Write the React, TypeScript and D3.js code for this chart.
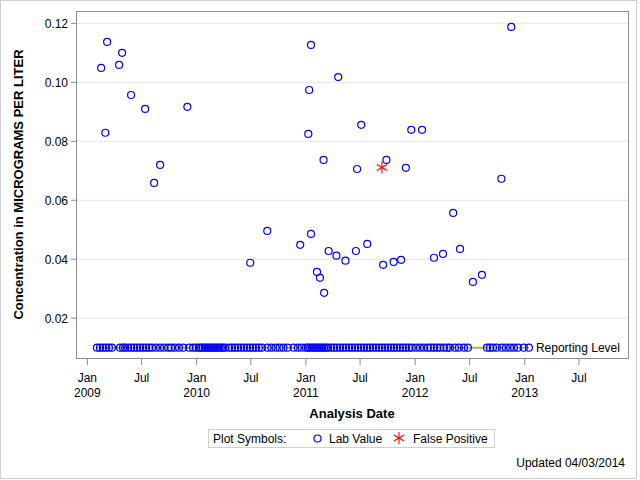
import React from "react";
import * as d3 from "d3";

// ---- data ----
const labDates: string[] = [
  "2009-02-16","2009-03-08","2009-03-02","2009-04-17","2009-04-27","2009-05-27","2009-07-13","2009-12-01",
  "2009-08-12","2009-09-01","2010-06-29","2012-11-17","2011-01-18","2011-04-19","2011-01-12","2011-07-05",
  "2011-12-19","2012-01-24","2011-01-09","2011-03-01","2011-09-27","2011-06-21","2011-12-01","2012-10-15",
  "2012-05-07","2010-08-25","2011-01-18","2010-12-13","2011-07-25","2011-03-18","2011-06-17","2011-04-13",
  "2011-05-13","2011-09-16","2011-10-21","2011-11-15","2012-03-04","2012-04-03","2012-05-30","2011-02-07",
  "2011-02-17","2011-03-03","2012-07-12","2012-08-11"
];
const labValues: number[] = [
  0.1049,0.1137,0.0829,0.1059,0.110,0.0957,0.091,0.0917,
  0.0659,0.072,0.0388,0.1188,0.1127,0.1018,0.0974,0.0856,
  0.0839,0.0839,0.0825,0.0737,0.0737,0.0706,0.071,0.0673,
  0.0557,0.0496,0.0486,0.0449,0.0452,0.0428,0.0428,0.0412,
  0.0395,0.0381,0.0391,0.0398,0.0405,0.0418,0.0435,0.0357,
  0.0337,0.0286,0.0323,0.0347
];
const reportingLevel = 0.01;
const reportingDates: string[] = [
  "2009-02-02","2009-02-12","2009-02-22","2009-03-04","2009-03-14","2009-03-24",
  "2009-04-20","2009-04-30","2009-05-07","2009-05-17","2009-05-27","2009-06-06","2009-06-16","2009-06-26",
  "2009-07-06","2009-07-16","2009-07-26","2009-08-05",
  "2009-08-18","2009-09-01","2009-09-14","2009-09-28","2009-10-08",
  "2009-10-21","2009-11-03","2009-11-17",
  "2009-12-07","2009-12-20","2009-12-30",
  "2010-01-09","2010-01-16","2010-01-22","2010-01-29","2010-02-05","2010-02-11","2010-02-18","2010-02-25",
  "2010-03-03","2010-03-10","2010-03-17","2010-03-23","2010-03-30","2010-04-06",
  "2010-04-19","2010-04-29","2010-05-09","2010-05-19","2010-05-29","2010-06-08","2010-06-18","2010-06-28",
  "2010-07-08","2010-07-18","2010-07-28","2010-08-07",
  "2010-08-26","2010-09-08","2010-09-22","2010-10-05","2010-10-18","2010-11-01",
  "2010-11-21","2010-12-05","2010-12-18",
  "2011-01-01","2011-01-08","2011-01-15","2011-01-21","2011-01-28","2011-02-04","2011-02-10","2011-02-17",
  "2011-02-24","2011-03-02","2011-03-09","2011-03-16","2011-03-26","2011-04-05","2011-04-15","2011-04-25",
  "2011-05-05","2011-05-15","2011-05-25","2011-06-04","2011-06-14","2011-06-24",
  "2011-07-04","2011-07-14","2011-07-24","2011-08-03","2011-08-13","2011-08-23","2011-09-02","2011-09-12",
  "2011-09-22","2011-10-02","2011-10-12","2011-10-22","2011-11-01","2011-11-11","2011-11-21","2011-12-01",
  "2011-12-11","2011-12-21","2012-01-04","2012-01-17","2012-01-30","2012-02-12","2012-02-22","2012-03-04",
  "2012-03-14","2012-03-24","2012-04-06","2012-04-16","2012-04-26","2012-05-13","2012-05-26","2012-06-12",
  "2012-06-25",
  "2012-08-28","2012-09-07","2012-09-17","2012-09-30","2012-10-17","2012-10-30","2012-11-13","2012-11-26",
  "2012-12-09","2012-12-29","2013-01-15"
];
const falsePosDates: string[] = ["2011-09-12"];
const falsePosValues: number[] = [0.0711];
const yTicks: number[] = [0.02, 0.04, 0.06, 0.08, 0.1, 0.12];
const xDomain: string[] = ["2008-11-24", "2013-12-12"];
const yDomain: number[] = [0.0065, 0.1242];

const FONT = "'Liberation Sans', Arial, Helvetica, sans-serif";
const parse = d3.utcParse("%Y-%m-%d");

export default function App() {
  const W = 640, H = 480;
  const left = 76, right = 628, top = 11, bottom = 358;
  const x = d3.scaleUtc().domain(xDomain.map((s) => parse(s) as Date)).range([left, right]);
  const y = d3.scaleLinear().domain(yDomain).range([bottom, top]);
  const xTicks = x.ticks(d3.utcMonth.every(6) as any);
  const fmtMon = d3.utcFormat("%b");
  const fmtYear = d3.utcFormat("%Y");

  const rd = reportingDates.map((s) => parse(s) as Date);
  const lineGen = d3.line<Date>().x((d) => x(d)).y(() => y(reportingLevel));
  const lineEnds = [rd[0], rd[rd.length - 1]];

  const star = (cx: number, cy: number, r: number, key: any) => (
    <g key={key} stroke="#ff0000" strokeWidth={1.1}>
      <line x1={cx} y1={cy - r} x2={cx} y2={cy + r} />
      <line x1={cx - r * 0.866} y1={cy - r * 0.5} x2={cx + r * 0.866} y2={cy + r * 0.5} />
      <line x1={cx - r * 0.866} y1={cy + r * 0.5} x2={cx + r * 0.866} y2={cy - r * 0.5} />
    </g>
  );

  return (
    <svg width={W} height={H} style={{ position: "absolute", left: 0, top: 0 }} fontFamily={FONT}>
      <rect x={0} y={0} width={W} height={H} fill="#ffffff" />
      <rect x={0.5} y={0.5} width={636} height={478} fill="none" stroke="#cfcfcf" />
      {/* gridlines */}
      {yTicks.map((t) => (
        <line key={"g" + t} x1={left} x2={right} y1={y(t)} y2={y(t)} stroke="#e4e4e4" strokeWidth={1} />
      ))}
      {/* reporting level line */}
      <path d={lineGen(lineEnds) || ""} stroke="#9cb55e" strokeWidth={2} fill="none" />
      {/* reporting level points */}
      {rd.map((d, i) => (
        <circle key={"r" + i} cx={x(d)} cy={y(reportingLevel)} r={3.5} fill="none" stroke="#0000ff" strokeWidth={1.2} />
      ))}
      {/* lab values */}
      {labDates.map((s, i) => (
        <circle key={"l" + i} cx={x(parse(s) as Date)} cy={y(labValues[i])} r={3.5} fill="none" stroke="#0000ff" strokeWidth={1.2} />
      ))}
      {falsePosDates.map((s, i) => star(x(parse(s) as Date), y(falsePosValues[i]), 6, "f" + i))}
      <text x={x(rd[rd.length - 1]) + 7} y={y(reportingLevel) + 4.5} fontSize={12} fill="#000">Reporting Level</text>
      {/* frame */}
      <rect x={left + 0.5} y={top + 0.5} width={right - left} height={bottom - top} fill="none" stroke="#8c8c8c" />
      {/* y axis */}
      {yTicks.map((t) => (
        <g key={"y" + t}>
          <line x1={left - 5} x2={left} y1={y(t)} y2={y(t)} stroke="#8c8c8c" />
          <text x={left - 8} y={y(t) + 4.5} fontSize={12} textAnchor="end" fill="#000">{d3.format(".2f")(t)}</text>
        </g>
      ))}
      {/* x axis */}
      {xTicks.map((t, i) => (
        <g key={"x" + i}>
          <line x1={x(t)} x2={x(t)} y1={bottom + 1} y2={bottom + 7} stroke="#8c8c8c" />
          <text x={x(t)} y={bottom + 24} fontSize={12} textAnchor="middle" fill="#000">{fmtMon(t)}</text>
          {t.getUTCMonth() === 0 && (
            <text x={x(t)} y={bottom + 39} fontSize={12} textAnchor="middle" fill="#000">{fmtYear(t)}</text>
          )}
        </g>
      ))}
      <text x={352} y={418} fontSize={13} fontWeight="bold" textAnchor="middle" fill="#000">Analysis Date</text>
      <text transform={`translate(23,${(top + bottom) / 2}) rotate(-90)`} fontSize={13} fontWeight="bold" textAnchor="middle" fill="#000">
        Concentration in MICROGRAMS PER LITER
      </text>
      {/* legend */}
      <rect x={208.5} y={429.5} width={286} height={18} fill="none" stroke="#cfcfcf" />
      <text x={213} y={443} fontSize={12} fill="#000">Plot Symbols:</text>
      <circle cx={317.5} cy={438.5} r={3.5} fill="none" stroke="#0000ff" strokeWidth={1.2} />
      <text x={329} y={443} fontSize={12} fill="#000">Lab Value</text>
      {star(399, 438, 6, "legstar")}
      <text x={413} y={443} fontSize={12} fill="#000">False Positive</text>
      <text x={625} y={467} fontSize={12} textAnchor="end" fill="#000">Updated 04/03/2014</text>
    </svg>
  );
}
